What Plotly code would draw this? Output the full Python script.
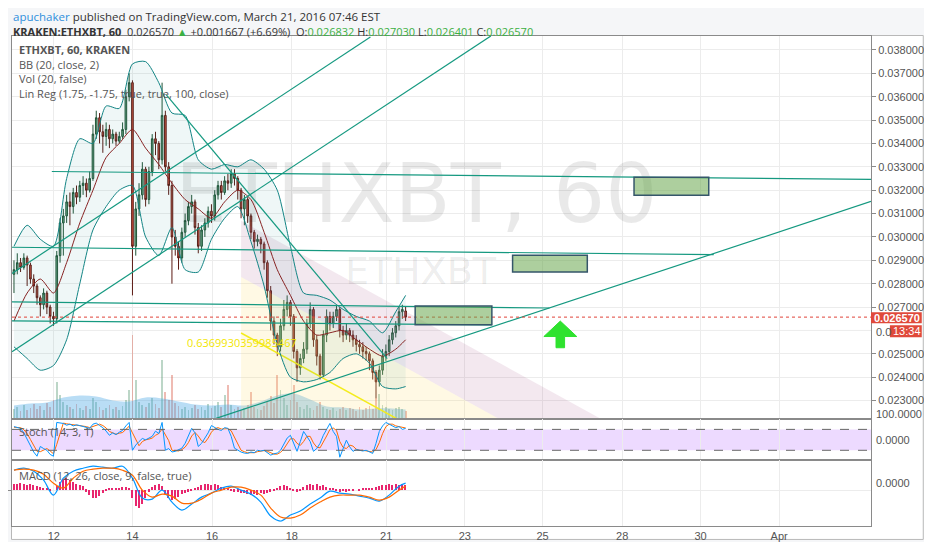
import plotly.graph_objects as go
from plotly.subplots import make_subplots

# hourly KRAKEN:ETHXBT bars, prices in thousandths (26.57 -> 0.02657)
OPEN_K = [28.4, 28.6, 28.9, 28.7, 29.1, 28.8, 28.2, 27.9, 27.4, 27.1,
          27.6, 27.0, 26.6, 26.5, 29.2, 30.6, 30.9, 31.5, 31.3, 31.9,
          31.7, 32.2, 32.3, 32.0, 32.5, 34.4, 35.1, 34.5, 34.3, 34.6,
          34.2, 34.4, 34.1, 34.3, 34.6, 36.0, 36.6, 29.6, 31.2, 31.8,
          32.9, 31.6, 32.8, 34.2, 34.0, 33.3, 35.2, 33.0, 32.2, 30.0,
          29.6, 29.1, 30.2, 30.7, 31.3, 31.5, 30.4, 29.6, 30.3, 30.6,
          31.1, 30.9, 31.8, 32.2, 31.9, 32.4, 32.3, 32.7, 32.5, 32.0,
          31.2, 31.6, 30.9, 30.2, 29.8, 29.9, 29.7, 28.9, 27.7, 26.4,
          25.8, 25.3, 26.2, 26.9, 27.2, 26.6, 25.1, 24.4, 24.8, 25.2,
          26.3, 26.9, 25.6, 24.9, 24.1, 25.8, 26.6, 26.3, 26.6, 26.9,
          26.0, 25.8, 26.0, 25.8, 25.6, 25.4, 25.3, 25.1, 25.0, 24.7,
          24.2, 23.8, 24.3, 24.9, 25.1, 25.6, 25.9, 26.2, 26.8, 26.832]
HIGH_K = [29.0, 29.3, 29.1, 29.3, 29.2, 28.9, 28.4, 28.0, 27.5, 27.8,
          27.7, 27.1, 26.8, 29.4, 30.8, 31.2, 31.8, 31.9, 32.1, 32.2,
          32.4, 32.6, 32.5, 32.8, 34.8, 35.4, 35.3, 34.8, 34.9, 34.8,
          34.6, 34.5, 34.5, 34.9, 36.3, 37.0, 36.7, 31.5, 32.3, 33.2,
          33.0, 33.0, 34.4, 34.5, 34.1, 36.6, 35.4, 33.2, 32.4, 30.3,
          29.8, 30.4, 31.0, 31.5, 31.8, 31.6, 30.6, 30.5, 30.8, 31.3,
          31.4, 32.0, 32.4, 32.4, 32.6, 32.7, 32.9, 32.9, 32.6, 32.1,
          31.8, 31.7, 31.0, 30.3, 30.1, 30.0, 29.8, 29.0, 27.9, 26.6,
          25.9, 26.5, 27.3, 27.5, 27.3, 26.7, 25.2, 25.0, 25.5, 26.5,
          27.2, 27.0, 25.8, 25.0, 26.0, 26.9, 26.8, 26.8, 27.1, 27.0,
          26.2, 26.3, 26.1, 26.0, 25.8, 25.6, 25.5, 25.3, 25.1, 24.8,
          24.3, 24.5, 25.2, 25.4, 25.8, 26.1, 26.4, 27.0, 27.1, 27.03]
LOW_K = [27.6, 28.4, 28.5, 28.6, 27.9, 28.0, 27.6, 27.1, 26.6, 26.9,
         26.7, 26.3, 26.2, 26.3, 28.9, 29.2, 30.6, 30.5, 31.0, 31.4,
         31.5, 31.8, 31.7, 31.9, 32.4, 34.2, 34.0, 33.6, 33.9, 33.8,
         34.0, 33.9, 34.0, 34.2, 34.4, 35.8, 27.5, 29.2, 30.9, 31.6,
         31.3, 31.4, 32.6, 33.5, 32.9, 33.1, 32.8, 31.8, 28.0, 29.2,
         28.6, 28.9, 30.0, 30.5, 31.0, 30.1, 29.3, 29.4, 30.0, 30.4,
         30.6, 30.7, 31.6, 31.6, 31.8, 32.0, 32.1, 32.2, 31.6, 30.8,
         30.5, 30.6, 29.9, 29.5, 29.6, 29.3, 28.6, 27.4, 26.0, 25.4,
         24.9, 25.1, 26.0, 26.6, 26.2, 24.8, 23.8, 24.1, 24.6, 25.0,
         26.1, 25.3, 24.5, 23.9, 24.0, 25.5, 26.0, 26.1, 26.4, 25.7,
         25.5, 25.6, 25.5, 25.3, 25.1, 25.0, 24.8, 24.7, 24.3, 23.9,
         23.1, 23.6, 24.1, 24.7, 24.9, 25.4, 25.7, 26.0, 26.5, 26.401]
CLOSE_K = [28.6, 28.9, 28.7, 29.1, 28.8, 28.2, 27.9, 27.4, 27.1, 27.6,
           27.0, 26.6, 26.5, 29.2, 30.6, 30.9, 31.5, 31.3, 31.9, 31.7,
           32.2, 32.3, 32.0, 32.5, 34.4, 35.1, 34.5, 34.3, 34.6, 34.2,
           34.4, 34.1, 34.3, 34.6, 36.0, 36.6, 29.6, 31.2, 31.8, 32.9,
           31.6, 32.8, 34.2, 34.0, 33.3, 35.2, 33.0, 32.2, 30.0, 29.6,
           29.1, 30.2, 30.7, 31.3, 31.5, 30.4, 29.6, 30.3, 30.6, 31.1,
           30.9, 31.8, 32.2, 31.9, 32.4, 32.3, 32.7, 32.5, 32.0, 31.2,
           31.6, 30.9, 30.2, 29.8, 29.9, 29.7, 28.9, 27.7, 26.4, 25.8,
           25.3, 26.2, 26.9, 27.2, 26.6, 25.1, 24.4, 24.8, 25.2, 26.3,
           26.9, 25.6, 24.9, 24.1, 25.8, 26.6, 26.3, 26.6, 26.9, 26.0,
           25.8, 26.0, 25.8, 25.6, 25.4, 25.3, 25.1, 25.0, 24.7, 24.2,
           23.8, 24.3, 24.9, 25.1, 25.6, 25.9, 26.2, 26.8, 26.9, 26.57]
VOLUME = [10, 12, 8, 14, 9, 11, 15, 10, 13, 9,
          16, 12, 20, 38, 25, 18, 14, 12, 10, 15,
          11, 9, 13, 10, 22, 18, 12, 9, 11, 14,
          10, 12, 9, 13, 20, 30, 85, 40, 18, 14,
          12, 16, 22, 15, 11, 60, 28, 20, 45, 16,
          13, 10, 12, 9, 11, 14, 10, 12, 9, 15,
          11, 13, 18, 12, 25, 35, 14, 10, 12, 9,
          11, 14, 28, 12, 10, 9, 13, 18, 24, 16,
          45, 30, 22, 14, 20, 35, 18, 12, 10, 14,
          11, 9, 13, 18, 12, 10, 9, 11, 8, 10,
          12, 9, 11, 10, 8, 12, 9, 11, 13, 10,
          22, 26, 14, 12, 10, 9, 11, 12, 10, 8]
VOL_MA_BARS = list(range(0, 116, 5)) + [119]
VOL_MA = [14, 16, 17, 22, 24, 23, 19, 18, 22, 21, 18, 15, 14,
          15, 14, 18, 24, 26, 20, 13, 12, 10, 11, 11, 10]

BB_BARS = list(range(0, 117, 4)) + [119]
BB_UPPER = [29.6, 30.5, 29.9, 29.6, 32.5, 34.2, 34.0, 35.6, 35.5, 37.4,
            37.5, 36.6, 35.3, 35.2, 33.3, 32.9, 33.1, 33.0, 33.3, 32.9,
            32.0, 29.6, 27.6, 27.5, 27.3, 26.9, 26.6, 26.4, 25.9, 26.8, 27.5]
BB_BASIS = [26.4, 27.6, 28.2, 27.6, 28.9, 30.6, 32.0, 33.4, 34.0, 34.6,
            33.8, 33.1, 32.3, 31.6, 31.2, 30.8, 31.5, 32.0, 31.6, 30.2,
            28.6, 27.5, 26.4, 25.8, 25.9, 26.0, 25.6, 25.2, 24.9, 25.2, 25.6]
BB_LOWER = [25.3, 24.8, 24.3, 24.5, 25.6, 28.0, 30.3, 31.3, 32.0, 32.2,
            30.0, 29.2, 30.4, 28.6, 28.5, 29.9, 30.8, 31.3, 29.8, 27.9,
            25.4, 24.0, 23.8, 23.9, 24.2, 24.8, 25.0, 24.6, 23.6, 23.5, 23.6]

STOCH_K = [88, 85, 83, 70, 50, 34, 15, 3, 31, 25,
           20, 8, 3, 100, 98, 97, 92, 95, 90, 93,
           91, 88, 85, 83, 95, 98, 91, 85, 75, 63,
           70, 65, 72, 77, 90, 100, 20, 35, 45, 54,
           50, 55, 60, 75, 68, 100, 20, 25, 15, 17,
           22, 26, 40, 60, 83, 70, 31, 40, 54, 70,
           91, 85, 80, 77, 85, 83, 60, 26, 20, 15,
           12, 11, 15, 13, 20, 18, 20, 12, 6, 10,
           12, 20, 40, 55, 63, 40, 17, 45, 74, 60,
           45, 17, 25, 40, 63, 80, 97, 74, 60, 0,
           25, 49, 30, 17, 22, 20, 18, 20, 15, 11,
           40, 74, 90, 100, 95, 91, 85, 88, 80, 83]
STOCH_D = [86, 86, 85, 79, 68, 51, 33, 17, 16, 20,
           25, 18, 10, 37, 67, 98, 96, 95, 92, 93,
           91, 91, 88, 85, 88, 92, 95, 91, 84, 74,
           69, 66, 69, 71, 80, 89, 70, 52, 33, 45,
           50, 52, 55, 63, 68, 81, 63, 48, 20, 19,
           18, 22, 29, 42, 61, 71, 61, 47, 42, 55,
           72, 82, 85, 81, 81, 82, 76, 56, 35, 20,
           16, 13, 13, 13, 16, 17, 19, 17, 13, 9,
           9, 14, 24, 38, 53, 53, 40, 34, 45, 60,
           60, 41, 29, 27, 43, 61, 80, 84, 77, 45,
           28, 25, 35, 32, 23, 20, 20, 19, 18, 15,
           22, 42, 68, 88, 95, 95, 90, 88, 84, 84]

MACD_BARS = list(range(0, 118, 3)) + [119]
MACD_LINE = [20, 22, 19, 10, -5, 12, 19, 22, 24, 23,
             22, 24, 12, -8, -9, 0, -12, -20, -14, -7,
             -3, 2, 4, 0, -4, -12, -26, -31, -25, -21,
             -14, -8, -1, -3, -4, -6, -8, -11, -5, 4, 7]
MACD_SIGNAL = [20, 21, 20, 16, 7, 2, 12, 19, 21, 22,
               22, 20, 15, 0, -7, -4, -6, -13, -13, -9,
               -3, 0, 3, 3, 0, -5, -18, -27, -28, -25,
               -18, -12, -7, -5, -5, -5, -7, -10, -7, 0, 4]
MACD_HIST = [6, 6, 7, 6, 5, 6, 5, 4, 3, 2,
             1, -1, 0, 4, 8, 11, 12, 10, 8, 6,
             5, 4, -2, -5, -8, -8, -6, -3, -1, 1,
             2, 1, 2, 3, 3, 2, -8, -16, -18, -14,
             -8, -2, 3, 5, 6, 4, -4, -8, -10, -9,
             -7, -4, -3, -2, -1, 1, 3, 5, 6, 6,
             5, 6, 5, 3, 2, 1, -1, -2, -2, -3,
             -3, -4, -5, -4, -5, -3, -4, -3, -2, -1,
             2, 4, 5, 4, 2, -1, -2, -1, 3, 5,
             6, 5, 6, 4, 5, 3, 2, 1, -1, -2,
             -1, -2, -1, -1, 0, -1, 1, 2, 1, 2,
             3, 4, 5, 5, 6, 5, 6, 5, 6, 5]

DAY_LABELS = ["12", "14", "16", "18", "21", "23", "25", "28", "30", "Apr"]
DAY_BARS = [12.1, 36.0, 60.2, 84.4, 113.1, 137.0, 160.6, 184.8, 208.6, 232.5]
# price scale labels; 0.026 sits under the countdown tag and is only partly visible
PRICE_TICKS_K = [23, 24, 25, 27, 28, 29, 30, 31, 32, 33, 34, 35, 36, 37, 38]
HIDDEN_TICK_K = 26

LAST_PRICE = 0.026570

# chart drawings (bar index, price in thousandths)
TREND_LINES = [
    ((-0.6, 28.44), (108.3, 38.55)),
    ((-0.6, 25.09), (144.9, 38.60)),
    ((61.4, 22.24), (260.4, 31.52)),
    ((46.3, 36.08), (113.4, 24.79)),
    ((11.5, 32.80), (260.4, 32.46)),
    ((-0.6, 29.56), (212.6, 29.24)),
    ((-0.6, 27.22), (162.7, 26.96)),
    ((-0.6, 26.41), (145.2, 26.24)),
]
TARGET_BOXES = [
    (121.9, 145.2, 26.24, 27.05),
    (151.5, 174.2, 28.50, 29.22),
    (188.4, 211.1, 31.78, 32.55),
]
LINREG_START = (69.0, 28.29)
LINREG_SLOPE = -0.0775
LINREG_DEV = 2.4
UP_ARROW = [(166.0, 26.40), (171.0, 25.74), (167.3, 25.74), (167.3, 25.26),
            (164.7, 25.26), (164.7, 25.74), (161.0, 25.74)]

K = 1000.0
N = len(CLOSE_K)
bars = list(range(N))
X_RANGE = [-0.6, 260.4]
Y_RANGE = [22.193 / K, 38.597 / K]

TEAL = "#159980"
GRID = "#ececec"
FRAME = "#8a8a8a"

# the page body keeps its default 8px margin, so the figure is sized to fit inside it;
# px/py map screen pixels of the 932x550 window to paper coordinates
def px(x):
    return (x - 8) / 863


def py(y):
    return (528 - y) / 492


fig = make_subplots(rows=3, cols=1, shared_xaxes=True, vertical_spacing=0,
                    row_heights=[0.7825, 0.0833, 0.1342],
                    specs=[[{"secondary_y": True}], [{}], [{}]])

# watermark behind everything
fig.add_trace(go.Scatter(x=[122.2], y=[31.50 / K], mode="text", text=["ETHXBT, 60"],
                         textfont=dict(size=82, color="rgba(0,0,0,0.085)", family="DejaVu Sans"),
                         hoverinfo="skip"), row=1, col=1, secondary_y=True)
fig.add_trace(go.Scatter(x=[123.5], y=[28.40 / K], mode="text", text=["ETHXBT"],
                         textfont=dict(size=38, color="rgba(0,0,0,0.085)", family="DejaVu Sans"),
                         hoverinfo="skip"), row=1, col=1, secondary_y=True)

# volume (hidden primary axis)
vol_colors = ["rgba(107,165,131,0.45)" if c >= o else "rgba(215,84,66,0.4)"
              for o, c in zip(OPEN_K, CLOSE_K)]
fig.add_trace(go.Scatter(x=VOL_MA_BARS, y=VOL_MA, mode="lines", line=dict(width=0, shape="spline"),
                         fill="tozeroy", fillcolor="rgba(70,165,230,0.38)", hoverinfo="skip"),
              row=1, col=1, secondary_y=False)
fig.add_trace(go.Bar(x=bars, y=VOLUME, marker_color=vol_colors, marker_line_width=0, width=0.55),
              row=1, col=1, secondary_y=False)

# linear regression channel
x0, m0 = LINREG_START
x1 = X_RANGE[1]
m1 = m0 + LINREG_SLOPE * (x1 - x0)
fig.add_trace(go.Scatter(x=[x0, x1, x1, x0],
                         y=[(m0 + LINREG_DEV) / K, (m1 + LINREG_DEV) / K, m1 / K, m0 / K],
                         fill="toself", fillcolor="rgba(170,90,140,0.14)", mode="lines",
                         line=dict(width=0), hoverinfo="skip"), row=1, col=1, secondary_y=True)
fig.add_trace(go.Scatter(x=[x0, x1, x1, x0], y=[m0 / K, m1 / K, 10 / K, 10 / K],
                         fill="toself", fillcolor="rgba(255,225,120,0.2)", mode="lines",
                         line=dict(width=0), hoverinfo="skip"), row=1, col=1, secondary_y=True)
fig.add_trace(go.Scatter(x=[x0, x1], y=[(m0 - LINREG_DEV) / K, (m1 - LINREG_DEV) / K],
                         mode="lines", line=dict(color="#f4ec1c", width=1.5), hoverinfo="skip"),
              row=1, col=1, secondary_y=True)

# Bollinger bands
fig.add_trace(go.Scatter(x=BB_BARS, y=[v / K for v in BB_UPPER], mode="lines",
                         line=dict(color="#138484", width=1, shape="spline", smoothing=0.7),
                         hoverinfo="skip"), row=1, col=1, secondary_y=True)
fig.add_trace(go.Scatter(x=BB_BARS, y=[v / K for v in BB_LOWER], mode="lines",
                         line=dict(color="#138484", width=1, shape="spline", smoothing=0.7),
                         fill="tonexty", fillcolor="rgba(25,135,135,0.07)", hoverinfo="skip"),
              row=1, col=1, secondary_y=True)
fig.add_trace(go.Scatter(x=BB_BARS, y=[v / K for v in BB_BASIS], mode="lines",
                         line=dict(color="#872323", width=1, shape="spline", smoothing=0.7),
                         hoverinfo="skip"), row=1, col=1, secondary_y=True)

# candles
fig.add_trace(go.Candlestick(
    x=bars, open=[v / K for v in OPEN_K], high=[v / K for v in HIGH_K],
    low=[v / K for v in LOW_K], close=[v / K for v in CLOSE_K],
    increasing=dict(fillcolor="#6ba583", line=dict(color="#225437", width=1)),
    decreasing=dict(fillcolor="#d75442", line=dict(color="#5b1a13", width=1)),
    whiskerwidth=0, hoverinfo="skip"), row=1, col=1, secondary_y=True)

# trend lines
for (ax, ay), (bx, by) in TREND_LINES:
    fig.add_trace(go.Scatter(x=[ax, bx], y=[ay / K, by / K], mode="lines",
                             line=dict(color=TEAL, width=1.2), hoverinfo="skip"),
                  row=1, col=1, secondary_y=True)

# up arrow
fig.add_trace(go.Scatter(x=[p[0] for p in UP_ARROW] + [UP_ARROW[0][0]],
                         y=[p[1] / K for p in UP_ARROW] + [UP_ARROW[0][1] / K],
                         fill="toself", fillcolor="#2fe22f", mode="lines",
                         line=dict(color="#2fe22f", width=1), hoverinfo="skip"),
              row=1, col=1, secondary_y=True)

# stochastic
fig.add_trace(go.Scatter(x=bars, y=STOCH_D, mode="lines", line=dict(color="#ff6a00", width=1),
                         hoverinfo="skip"), row=2, col=1)
fig.add_trace(go.Scatter(x=bars, y=STOCH_K, mode="lines", line=dict(color="#0496ff", width=1),
                         hoverinfo="skip"), row=2, col=1)

# MACD
fig.add_trace(go.Bar(x=bars, y=MACD_HIST, marker_color="#e8266e", marker_line_width=0, width=0.45),
              row=3, col=1)
fig.add_trace(go.Scatter(x=MACD_BARS, y=MACD_LINE, mode="lines",
                         line=dict(color="#0496ff", width=1.2, shape="spline"), hoverinfo="skip"),
              row=3, col=1)
fig.add_trace(go.Scatter(x=MACD_BARS, y=MACD_SIGNAL, mode="lines",
                         line=dict(color="#ff6a00", width=1.2, shape="spline"), hoverinfo="skip"),
              row=3, col=1)

shapes = [
    dict(type="rect", xref="paper", yref="paper", x0=px(7.5), x1=px(923.5), y0=py(541.5),
         y1=py(35.5), fillcolor="white", line=dict(color="#b8b8b8", width=1), layer="below"),
    dict(type="line", xref="x", yref="y2", x0=X_RANGE[0], x1=X_RANGE[1],
         y0=HIDDEN_TICK_K / K, y1=HIDDEN_TICK_K / K, line=dict(color=GRID, width=1),
         layer="below"),
    dict(type="line", xref="x", yref="y2", x0=X_RANGE[0], x1=X_RANGE[1],
         y0=LAST_PRICE, y1=LAST_PRICE, line=dict(color="#e0433a", width=1, dash="dot")),
    dict(type="rect", xref="x2", yref="y3", x0=X_RANGE[0], x1=X_RANGE[1], y0=20, y1=80,
         fillcolor="rgba(153,51,255,0.18)", line=dict(width=0), layer="below"),
]
for lvl in (20, 80):
    shapes.append(dict(type="line", xref="x2", yref="y3", x0=X_RANGE[0], x1=X_RANGE[1],
                       y0=lvl, y1=lvl, line=dict(color="#666", width=1, dash="dash")))
for bx0, bx1, by0, by1 in TARGET_BOXES:
    shapes.append(dict(type="rect", xref="x", yref="y2", x0=bx0, x1=bx1, y0=by0 / K, y1=by1 / K,
                       fillcolor="rgba(106,168,79,0.55)", line=dict(color="#35566a", width=1.5)))
# last price and countdown tags on the price scale
shapes.append(dict(type="rect", xref="paper", yref="paper", x0=1.0, x1=px(922),
                   y0=py(324.5), y1=py(313.5), fillcolor="#e0493a", line=dict(width=0)))
shapes.append(dict(type="rect", xref="paper", yref="paper", x0=px(890), x1=px(922),
                   y0=py(338.5), y1=py(326.5), fillcolor="#e0493a", line=dict(width=0)))

GREEN = "#3cb043"
annotations = [
    dict(x=px(8), y=py(16.5), text="<span style='color:#2f8fdc'>apuchaker</span> published on "
         "TradingView.com, March 21, 2016 07:46 EST",
         font=dict(size=11.5, color="#333", family="Open Sans")),
    dict(x=px(8), y=py(31), text="<b>KRAKEN:ETHXBT, 60</b>&nbsp; 0.026570 "
         "<span style='color:%s'>▲</span> +0.001667 (+6.69%%)&nbsp; "
         "O:<span style='color:%s'>0.026832</span> H:<span style='color:%s'>0.027030</span> "
         "L:<span style='color:%s'>0.026401</span> C:<span style='color:%s'>0.026570</span>"
         % ((GREEN,) * 5),
         font=dict(size=11, color="#333", family="Open Sans")),
    dict(x=px(14), y=py(50), text="<b>ETHXBT, 60, KRAKEN</b>",
         font=dict(size=11, color="#555", family="Open Sans")),
    dict(x=px(14), y=py(64.5), text="BB (20, close, 2)",
         font=dict(size=11, color="#555", family="Open Sans")),
    dict(x=px(14), y=py(79), text="Vol (20, false)",
         font=dict(size=11, color="#555", family="Open Sans")),
    dict(x=px(14), y=py(93.5), text="Lin Reg (1.75, -1.75, true, true, 100, close)",
         font=dict(size=11, color="#555", family="Open Sans")),
    dict(x=px(14), y=py(433.5), text="Stoch (14, 3, 1)",
         font=dict(size=11, color="#555", family="Open Sans")),
    dict(x=px(14), y=py(477), text="MACD (12, 26, close, 9, false, true)",
         font=dict(size=11, color="#555", family="Open Sans")),
    dict(x=px(183), y=py(344), text="0.6369930359985467",
         font=dict(size=11, color="#f2e600", family="Open Sans")),
    dict(x=px(873), y=py(319), text="<b>0.026570</b>",
         font=dict(size=11, color="white", family="Liberation Sans")),
    dict(x=px(892), y=py(332.5), text="13:34",
         font=dict(size=11, color="white", family="Liberation Sans")),
    dict(x=px(875), y=py(333), text="0.0",
         font=dict(size=11, color="#555", family="Liberation Sans")),
    dict(x=px(875), y=py(416), text="100.0000",
         font=dict(size=11, color="#555", family="Liberation Sans")),
    dict(x=px(875), y=py(442), text="0.0000",
         font=dict(size=11, color="#555", family="Liberation Sans")),
    dict(x=px(875), y=py(485), text="0.0000",
         font=dict(size=11, color="#555", family="Liberation Sans")),
]
for a in annotations:
    a.update(xref="paper", yref="paper", xanchor="left", yanchor="middle", showarrow=False,
             borderpad=0)

fig.update_xaxes(domain=[0, 1], range=X_RANGE, tickvals=DAY_BARS, ticktext=DAY_LABELS,
                 showgrid=True, gridcolor=GRID, zeroline=False, showline=True, linecolor=FRAME,
                 mirror=True, ticks="",
                 tickfont=dict(size=11, color="#555", family="Liberation Sans"),
                 rangeslider=dict(visible=False))
fig.update_layout(
    width=916, height=534, autosize=False,
    margin=dict(l=0, r=53, t=28, b=14),
    paper_bgcolor="#f5f6f8", plot_bgcolor="white",
    showlegend=False, hovermode=False, bargap=0,
    shapes=shapes, annotations=annotations,
    yaxis=dict(range=[0, 385], visible=False, fixedrange=True),
    yaxis2=dict(range=Y_RANGE, side="right", tickvals=[v / K for v in PRICE_TICKS_K],
                tickformat=".6f", showgrid=True, gridcolor=GRID, zeroline=False,
                ticks="outside", ticklen=4, tickcolor=FRAME, showline=True, linecolor=FRAME,
                mirror=True, tickfont=dict(size=11, color="#555", family="Liberation Sans")),
    yaxis3=dict(range=[-8.6, 108.6], showticklabels=False, showgrid=False, zeroline=False,
                showline=True, linecolor=FRAME, mirror=True, ticks=""),
    yaxis4=dict(range=[-36, 30], tickvals=[0], showticklabels=False, showgrid=True,
                gridcolor=GRID, zeroline=False, showline=True, linecolor=FRAME, mirror=True,
                ticks="outside", ticklen=4, tickcolor=FRAME),
)

fig.write_html("out.html")
